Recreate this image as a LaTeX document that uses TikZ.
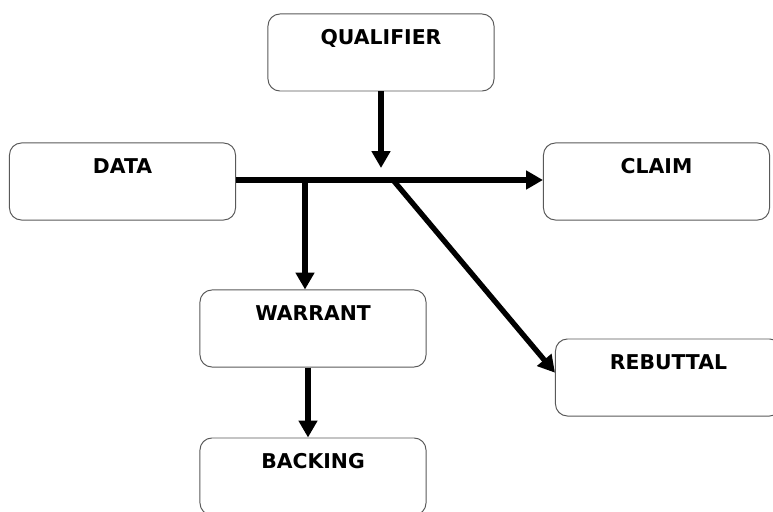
\documentclass[tikz,border=0pt]{standalone}
\usepackage{fontspec}
\setmainfont{DejaVu Sans}
\usetikzlibrary{arrows.meta,positioning}

\begin{document}
\begin{tikzpicture}[x=0.025cm, y=-0.025cm,
    box/.style={draw=black!65, line width=0.7pt, rounded corners=0.3cm,
      minimum width=5.65cm, inner sep=0pt, text height=0.76cm, text depth=1.165cm,
      font=\bfseries\fontsize{14.5}{17}\selectfont},
    link/.style={line width=3.8pt, -{Triangle[length=0.42cm, width=0.45cm]}}]
    \pgfmathsetmacro{\ym}{180}
    \useasboundingbox (0,0) rectangle (773,511);
    \node[box] (qualifier) at (381, 52.5) {QUALIFIER};
    \node[box] (data) at (122.5, 181.5) {DATA};
    \node[box] (claim) at (656.5, 181.5) {CLAIM};
    \node[box] (warrant) at (313, 328.5) {WARRANT};
    \node[box] (rebuttal) at (668.5, 377.5) {REBUTTAL};
    \node[box] (backing) at (313, 476.5) {BACKING};
    \coordinate (qtip) at (381, 168);
    \coordinate (wfork) at (305, \ym);
    \coordinate (rfork) at (393, \ym);
    \draw[link] (data.east |- wfork) -- (claim.west |- wfork);
    \draw[link] (qualifier.south) -- (qtip);
    \draw[link] (wfork) -- (wfork |- warrant.north);
    \draw[link] (rfork) -- ([yshift=0.12cm]rebuttal.west);
    \draw[link] ([xshift=-0.125cm]warrant.south) -- ([xshift=-0.125cm]backing.north);
\end{tikzpicture}
\end{document}
